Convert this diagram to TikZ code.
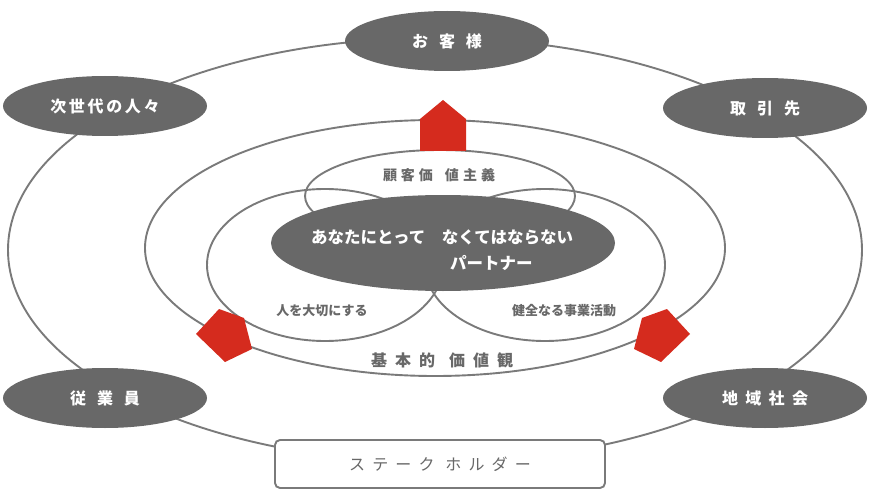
\documentclass[tikz,border=0pt]{standalone}
\usepackage{fontspec}
\usetikzlibrary{shapes.geometric}
\setmainfont{Noto Sans CJK JP}
\definecolor{dg}{HTML}{686868}
\definecolor{lg}{HTML}{7A7A7A}
\definecolor{rd}{HTML}{D52B1E}
\begin{document}
\begin{tikzpicture}[x=1pt,y=-1pt,
 ring/.style={draw=lg,line width=1.9pt},
 dnode/.style={ellipse,fill=dg,text=white,font=\fontsize{16}{16}\selectfont\bfseries,minimum width=204pt,minimum height=60pt,inner sep=0pt},
 lab/.style={text=dg,font=\fontsize{13}{13}\selectfont\bfseries},
 house/.style={fill=rd}]
\useasboundingbox (0,0) rectangle (870,492);
\draw[ring] (435,250) ellipse [x radius=427,y radius=212];
\draw[ring] (435,248) ellipse [x radius=290,y radius=128];
\draw[ring] (325,265) ellipse [x radius=118,y radius=76];
\draw[ring] (545,265) ellipse [x radius=120,y radius=76];
\draw[ring] (440,196) ellipse [x radius=135,y radius=46];
\node[ellipse,fill=dg,minimum width=344pt,minimum height=96pt,inner sep=0pt] (core) at (443,243) {};
\node[text=white,font=\fontsize{16.5}{16.5}\selectfont\bfseries,anchor=west,inner sep=0pt] (c1) at (311,237) {あなたにとって　なくてはならない};
\node[text=white,font=\fontsize{16.5}{16.5}\selectfont\bfseries,anchor=west,inner sep=0pt] (c2) at (450,263) {パートナー};
\node[lab,font=\fontsize{14}{14}\selectfont\bfseries] (kk) at (439,175) {顧\hspace{4pt}客\hspace{4pt}価\hspace{12pt}値\hspace{4pt}主\hspace{4pt}義};
\node[lab] (hito) at (322,311) {人を大切にする};
\node[lab] (kenz) at (564,311) {健全なる事業活動};
\node[lab,font=\fontsize{16}{16}\selectfont\bfseries] (kihon) at (442,360) {基\hspace{8pt}本\hspace{8pt}的\hspace{14pt}価\hspace{8pt}値\hspace{8pt}観};
\node[dnode] (okyaku) at (447,41) {お\ \ \ 客\ \ \ 様};
\node[dnode] (jisedai) at (105,106) {次\,世\,代\,の\,人\,々};
\node[dnode] (torihiki) at (765,108) {取\ \ \ 引\ \ \ 先};
\node[dnode] (jugyo) at (105,398) {従\ \ \ 業\ \ \ 員};
\node[dnode] (chiiki) at (765,398) {地\ \ 域\ \ 社\ \ 会};
\node[draw=lg,line width=1.9pt,fill=white,rounded corners=5pt,minimum width=330pt,minimum height=48pt,text=dg,font=\fontsize{16}{16}\selectfont] (stake) at (440,464) {ス\ \ テ\ \ ー\ \ ク\ \ \ ホ\ \ ル\ \ ダ\ \ ー};
\fill[house] (443,100) -- (466,119) -- (466,151) -- (420,151) -- (420,119) -- cycle;
\fill[house] (196,334) -- (219,309) -- (244,318) -- (252,349) -- (225,362) -- cycle;
\fill[house] (690,334) -- (667,309) -- (642,318) -- (634,349) -- (661,362) -- cycle;
\end{tikzpicture}
\end{document}
